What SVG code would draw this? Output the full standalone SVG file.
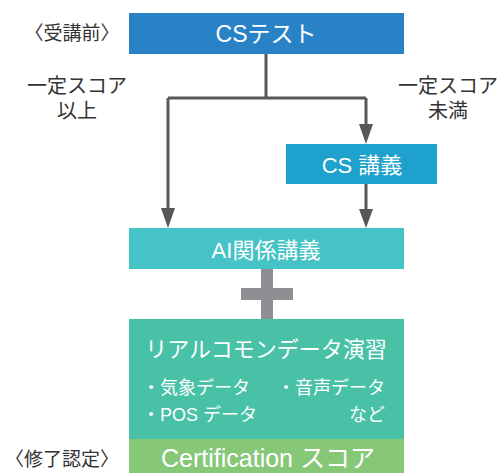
<svg xmlns="http://www.w3.org/2000/svg" width="500" height="473" viewBox="0 0 500 473">
<defs>
<style>
.t{font-family:"Liberation Sans","Noto Sans CJK JP",sans-serif;}
.w{fill:#ffffff;}
.d{fill:#333333;}
.ln{stroke:#58585a;stroke-width:3;fill:none;}
.ah{fill:#58585a;}
</style>
</defs>
<rect width="500" height="473" fill="#ffffff"/>
<g id="connectors">
<path class="ln" d="M266,54 V98 M168,98 H366"/>
<path class="ln" d="M168,98 V210"/>
<path class="ah" d="M161,208 L175,208 L168,228 Z"/>
<path class="ln" d="M366,98 V126"/>
<path class="ah" d="M359,124 L373,124 L366,144 Z"/>
<path class="ln" d="M366,184 V211"/>
<path class="ah" d="M359,209 L373,209 L366,228 Z"/>
</g>
<g id="label-before">
<text class="t d" x="72" y="40" font-size="19" text-anchor="middle">〈受講前〉</text>
</g>
<g id="label-pass">
<text class="t d" x="77" y="93" font-size="20" text-anchor="middle">一定スコア</text>
<text class="t d" x="77" y="118" font-size="20" text-anchor="middle">以上</text>
</g>
<g id="label-fail">
<text class="t d" x="448" y="93" font-size="20" text-anchor="middle">一定スコア</text>
<text class="t d" x="448" y="118" font-size="20" text-anchor="middle">未満</text>
</g>
<g id="cs-test">
<rect x="129" y="13" width="275" height="41" fill="#2a82c6"/>
<text class="t w" x="266" y="42" font-size="23" text-anchor="middle">CSテスト</text>
</g>
<g id="cs-lecture">
<rect x="286" y="144" width="151" height="40" fill="#1ea1cc"/>
<text class="t w" x="362" y="173" font-size="22" text-anchor="middle">CS 講義</text>
</g>
<g id="ai-lecture">
<rect x="129" y="228" width="275" height="41" fill="#45c3c6"/>
<text class="t w" x="266" y="258" font-size="22" text-anchor="middle">AI関係講義</text>
</g>
<g id="plus">
<rect x="261" y="269" width="12" height="50" fill="#8e8f93"/>
<rect x="241" y="288" width="52" height="12" fill="#8e8f93"/>
</g>
<g id="exercise">
<rect x="129" y="319" width="275" height="120" fill="#48c1a6"/>
<text class="t w" x="266" y="357" font-size="22" text-anchor="middle">リアルコモンデータ演習</text>
<text class="t w" x="142" y="394" font-size="18">・気象データ</text>
<text class="t w" x="277" y="394" font-size="18">・音声データ</text>
<text class="t w" x="142" y="421" font-size="18">・POS データ</text>
<text class="t w" x="385" y="421" font-size="18" text-anchor="end">など</text>
</g>
<g id="certification">
<rect x="129" y="439" width="275" height="34" fill="#86c877"/>
<text class="t w" x="268" y="467" font-size="25" text-anchor="middle">Certification スコア</text>
</g>
<g id="label-after">
<text class="t d" x="62" y="466" font-size="19" text-anchor="middle">〈修了認定〉</text>
</g>
</svg>
